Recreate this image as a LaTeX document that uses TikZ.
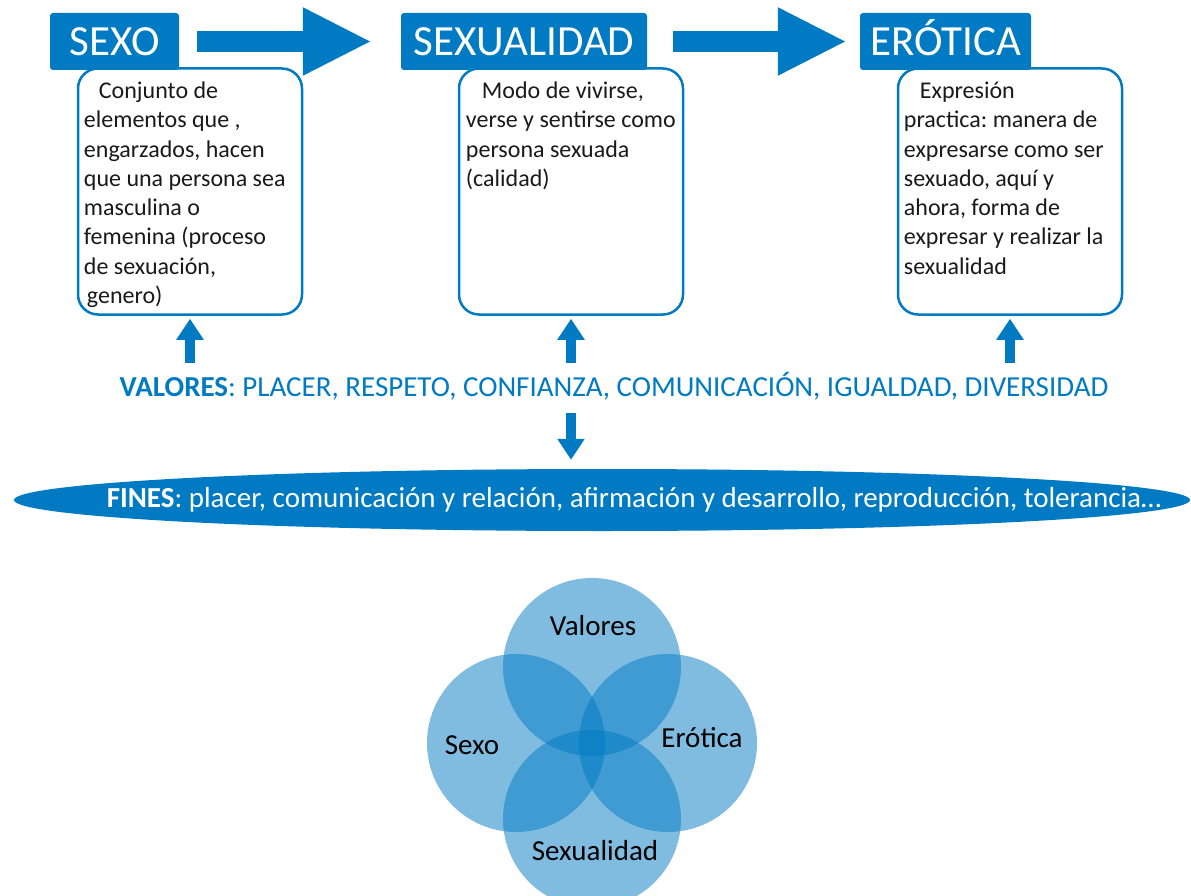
\documentclass[tikz,border=0pt]{standalone}
\usepackage{fontspec}
\setmainfont{Carlito}
\usetikzlibrary{arrows.meta,shapes.geometric}
\definecolor{azul}{RGB}{0,122,194}
\definecolor{tinta}{RGB}{26,26,26}
\frenchspacing

\begin{document}
\begin{tikzpicture}[x=1pt,y=-1pt,
    titulo/.style = {rectangle, rounded corners=3pt, fill=azul, text=white,
                inner sep=0pt, minimum height=57pt, text height=28pt, text depth=0pt,
                font=\fontsize{43}{50}\selectfont},
    caja/.style = {rectangle, draw=azul, line width=2.5pt, rounded corners=20pt,
                fill=white, minimum width=224pt, minimum height=246pt, inner sep=0pt},
    texto/.style = {anchor=north west, inner sep=0pt, align=left, text=tinta,
                font=\fontsize{24}{29.3}\selectfont},
    flecha/.style = {azul, line width=21pt, -{Triangle[length=69pt,width=63pt]}},
    flechita/.style = {azul, line width=10pt, -{Triangle[length=21pt,width=26pt]}},
    circulo/.style = {circle, fill=azul, fill opacity=0.5,
                minimum size=178pt, inner sep=0pt},
    etiqueta/.style = {text=black, font=\fontsize{29}{34}\selectfont}
                    ]
        \useasboundingbox (0,0) rectangle (1191,896);
        % cajas de texto
        \node[caja] (caja1) at (190,191.5) {};
        \node[caja] (caja2) at (571,191.5) {};
        \node[caja] (caja3) at (1010,191.5) {};
        \node[texto] (texto1) at ([xshift=7pt,yshift=-10.5pt]caja1.north west)
            {\strut\hspace{15pt}Conjunto de\\elementos que ,\\engarzados, hacen\\que una persona sea\\masculina o\\femenina (proceso\\de sexuación,\\\hspace{3pt}genero)};
        \node[texto] (texto2) at ([xshift=8pt,yshift=-10.5pt]caja2.north west)
            {\strut\hspace{16pt}Modo de vivirse,\\verse y sentirse como\\persona sexuada\\(calidad)};
        \node[texto] (texto3) at ([xshift=7pt,yshift=-10.5pt]caja3.north west)
            {\strut\hspace{16pt}Expresión\\practica: manera de\\expresarse como ser\\sexuado, aquí y\\ahora, forma de\\expresar y realizar la\\sexualidad};
        % titulos
        \node[titulo, minimum width=129pt] (sexo) at (114.5,41.5) {SEXO};
        \node[titulo, minimum width=246pt] (sexualidad) at (524,41.5) {SEXUALIDAD};
        \node[titulo, minimum width=171pt] (erotica) at (945.5,41.5) {ERÓTICA};
        \draw[flecha, shorten <=18pt, shorten >=29pt] (sexo.east) -- (sexualidad.west);
        \draw[flecha, shorten <=26pt, shorten >=13pt] (sexualidad.east) -- (erotica.west);
        % valores y fines
        \node[anchor=base, text=azul, inner sep=0pt, text height=18pt, text depth=5pt,
              font=\fontsize{29}{34}\selectfont] (valores) at (614,396)
            {\textbf{VALORES}: PLACER, RESPETO, CONFIANZA, COMUNICACIÓN, IGUALDAD, DIVERSIDAD};
        \foreach \c in {caja1, caja2, caja3}
            \draw[flechita, shorten <=15pt, shorten >=3pt] (\c.south |- valores.north) -- (\c.south);
        \node[ellipse, fill=azul, minimum width=1176pt, minimum height=62pt,
              inner sep=0pt] (fines) at (602,500) {};
        \node[text=white, inner sep=0pt, font=\fontsize{29}{34}\selectfont] (finestexto) at (634,500)
            {\textbf{FINES}: placer, comunicación y relación, afirmación y desarrollo, reproducción, tolerancia…};
        \draw[flechita, shorten <=12pt, shorten >=9pt] (caja2.south |- valores.south) -- (caja2.south |- fines.north);
        % circulos
        \node[circulo] (cval) at (592,667) {};
        \node[circulo] (csexo) at (516,743) {};
        \node[circulo] (cero) at (668,743) {};
        \node[circulo] (csex) at (592,819) {};
        \node[etiqueta] (lval) at ([xshift=1pt,yshift=41pt]cval) {Valores};
        \node[etiqueta] (lsexo) at ([xshift=-44pt,yshift=-2pt]csexo) {Sexo};
        \node[etiqueta] (lero) at ([xshift=34pt,yshift=5pt]cero) {Erótica};
        \node[etiqueta] (lsex) at ([xshift=3pt,yshift=-32pt]csex) {Sexualidad};
    \end{tikzpicture}
\end{document}
